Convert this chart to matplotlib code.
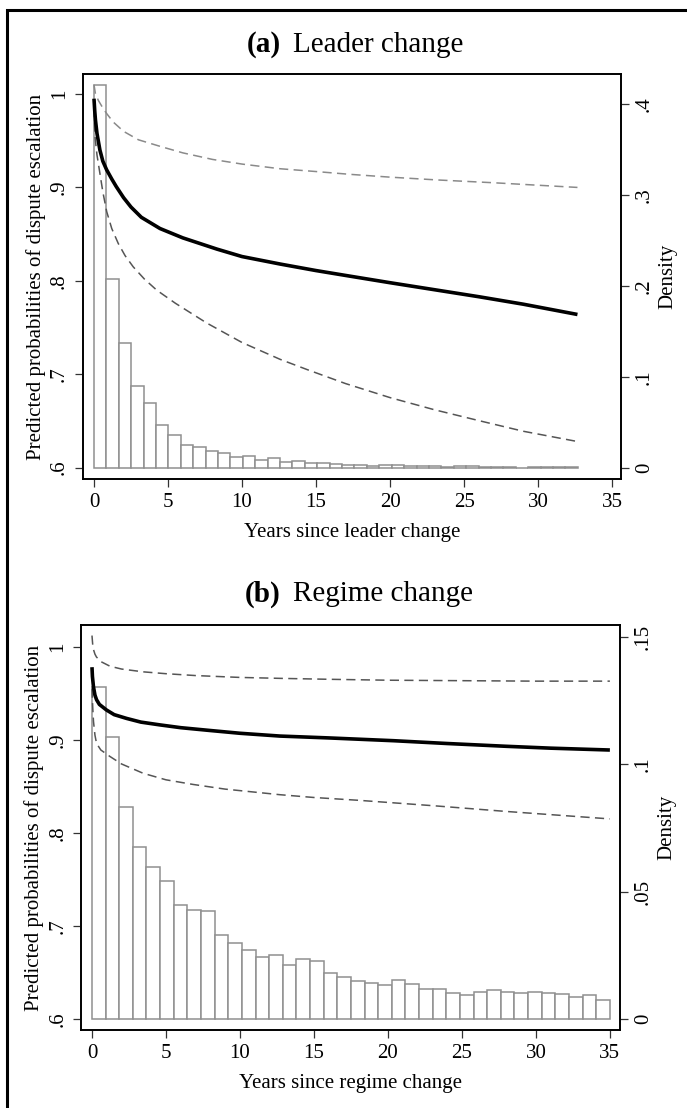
import numpy as np
import matplotlib.pyplot as plt
from matplotlib.patches import Rectangle

plt.rcParams['font.family'] = ['Liberation Serif', 'DejaVu Serif']

# Panel (a): leader change ===
leader_bin_width = 0.838
leader_density = [0.421, 0.2076, 0.1375, 0.0902, 0.0712, 0.0466, 0.036, 0.0253, 0.0224, 0.0184,
                  0.0158, 0.0121, 0.0125, 0.0088, 0.0102, 0.0062, 0.0077, 0.0051, 0.0055, 0.004,
                  0.0033, 0.0029, 0.0018, 0.0026, 0.0029, 0.0018, 0.0018, 0.0018, 0.001, 0.0018,
                  0.0018, 0.001, 0.001, 0.001, 0.0, 0.0008, 0.0008, 0.0008, 0.0008]

leader_t = [0, 0.05, 0.1, 0.2, 0.4, 0.6, 0.85, 1.2, 1.5, 2, 2.5, 3.2, 4.46, 6, 8.3, 10,
            12.57, 15, 17.3, 20, 23.2, 26, 29, 32.66]
leader_p = [0.995, 0.982, 0.972, 0.958, 0.940, 0.928, 0.919, 0.909, 0.901, 0.889, 0.879, 0.868,
            0.856, 0.846, 0.834, 0.826, 0.818, 0.811, 0.805, 0.798, 0.790, 0.783, 0.775, 0.764]
leader_hi_t = [0, 0.1, 0.3, 0.6, 0.86, 1.3, 2, 3, 4.46, 6, 8, 10, 12.57, 15, 17.3, 20, 23.2, 27, 32.66]
leader_hi_p = [1.01, 1.0, 0.993, 0.985, 0.979, 0.970, 0.960, 0.951, 0.944, 0.937, 0.930, 0.925,
               0.920, 0.917, 0.914, 0.911, 0.908, 0.905, 0.900]
leader_lo_t = [0, 0.07, 0.2, 0.4, 0.6, 0.86, 1.2, 1.64, 2.1, 2.65, 3.4, 4.24, 5.5, 7.6, 10,
               12.57, 14.4, 17, 20, 23, 26.1, 29, 32.66]
leader_lo_p = [0.985, 0.954, 0.935, 0.915, 0.895, 0.874, 0.856, 0.840, 0.827, 0.815, 0.802, 0.790,
               0.776, 0.755, 0.734, 0.716, 0.705, 0.690, 0.675, 0.662, 0.650, 0.639, 0.628]

# Panel (b): regime change ===
regime_bin_width = 0.921
regime_density = [0.1304, 0.1106, 0.0832, 0.0674, 0.0598, 0.0543, 0.0449, 0.0426, 0.0422, 0.0331,
                  0.0297, 0.0271, 0.0242, 0.0251, 0.0212, 0.0237, 0.0228, 0.0182, 0.0166, 0.015,
                  0.014, 0.0135, 0.0154, 0.0137, 0.0116, 0.0119, 0.0103, 0.0095, 0.0107, 0.0112,
                  0.0107, 0.0102, 0.0107, 0.0103, 0.0098, 0.0087, 0.0094, 0.0073]

regime_t = [0, 0.03, 0.1, 0.2, 0.31, 0.5, 0.98, 1.5, 2.33, 3.3, 4.59, 6, 7.97, 10, 12.7, 16,
            20.4, 24, 28, 31, 35]
regime_p = [0.978, 0.968, 0.957, 0.948, 0.943, 0.938, 0.932, 0.927, 0.923, 0.919, 0.916, 0.913,
            0.910, 0.907, 0.904, 0.902, 0.899, 0.896, 0.893, 0.891, 0.889]
regime_hi_t = [0, 0.05, 0.1, 0.2, 0.3, 0.6, 1.22, 2, 3.46, 5, 7, 10, 12.7, 16, 20, 25, 30, 35]
regime_hi_p = [1.012, 1.002, 0.997, 0.992, 0.989, 0.984, 0.979, 0.976, 0.973, 0.971, 0.969, 0.967,
               0.966, 0.965, 0.964, 0.9635, 0.963, 0.963]
regime_lo_t = [0, 0.05, 0.1, 0.2, 0.31, 0.6, 1.22, 2, 3.46, 5, 6.84, 9, 12.7, 15, 18, 23.2, 28, 35]
regime_lo_p = [0.955, 0.935, 0.92, 0.905, 0.896, 0.889, 0.882, 0.874, 0.864, 0.857, 0.852, 0.847,
               0.841, 0.838, 0.835, 0.829, 0.823, 0.815]

prob_ticks = [0.6, 0.7, 0.8, 0.9, 1.0]
prob_labels = ['.6', '.7', '.8', '.9', '1']
x_ticks = [0, 5, 10, 15, 20, 25, 30, 35]

fig = plt.figure(figsize=(6.87, 11.08), dpi=100)

# outer frame, cut off at right and bottom like the source
fig.add_artist(Rectangle((7 / 687, -0.1), 1.2, 1.1 - 10 / 1108, transform=fig.transFigure,
                         fill=False, lw=2.2, ec='black'))


def panel(rect, title_tag, title_txt, title_y, dens, width, t, p, hi_t, hi_p, lo_t, lo_p,
          hi_color, xlim, ylim, dlim, dticks, dlabels, xlabel):
    ax = fig.add_axes(rect)
    ax2 = ax.twinx()
    ax.set_zorder(ax2.get_zorder() + 1)
    ax.patch.set_visible(False)

    lefts = np.arange(len(dens)) * width
    ax2.bar(lefts, dens, width=width, align='edge', color='white', edgecolor='#8f8f8f', lw=1.1)

    ax.plot(hi_t, hi_p, color=hi_color, lw=1.1, ls=(0, (6, 3.5)))
    ax.plot(lo_t, lo_p, color='#555555', lw=1.1, ls=(0, (6, 3.5)))
    ax.plot(t, p, color='black', lw=2.6, solid_capstyle='butt', solid_joinstyle='round')

    ax.set_xlim(*xlim)
    ax.set_ylim(*ylim)
    ax2.set_ylim(*dlim)
    ax.set_xticks(x_ticks)
    ax.set_yticks(prob_ticks)
    ax.set_yticklabels(prob_labels, rotation=90, va='center')
    ax2.set_yticks(dticks)
    ax2.set_yticklabels(dlabels, rotation=90, va='center')
    for a in (ax, ax2):
        a.tick_params(labelsize=15, length=6, width=0.9, color='#333333', pad=4)
        for s in a.spines.values():
            s.set_linewidth(1.2)
    ax.set_ylabel('Predicted probabilities of dispute escalation', fontsize=15, labelpad=3)
    ax2.set_ylabel('Density', fontsize=15, labelpad=3)
    ax.set_xlabel(xlabel, fontsize=15, labelpad=8)

    fig.text(0.409, title_y, title_tag, fontsize=21, fontweight='bold', ha='right', va='center')
    fig.text(0.4265, title_y, title_txt, fontsize=21, ha='left', va='center')


panel([0.1208, 0.5677, 0.7831, 0.3655], '(a)', 'Leader change', 1 - 45 / 1108,
      leader_density, leader_bin_width, leader_t, leader_p, leader_hi_t, leader_hi_p,
      leader_lo_t, leader_lo_p, '#8a8a8a', (-0.743, 35.6), (0.5879, 1.0214), (-0.0124, 0.4333),
      [0, 0.1, 0.2, 0.3, 0.4], ['0', '.1', '.2', '.3', '.4'], 'Years since leader change')

panel([0.1186, 0.0704, 0.7838, 0.3655], '(b)', 'Regime change', 1 - 594 / 1108,
      regime_density, regime_bin_width, regime_t, regime_p, regime_hi_t, regime_hi_p,
      regime_lo_t, regime_lo_p, '#555555', (-0.71, 35.68), (0.5882, 1.0233), (-0.0043, 0.1546),
      [0, 0.05, 0.1, 0.15], ['0', '.05', '.1', '.15'], 'Years since regime change')

plt.savefig('out.png', dpi=100)
